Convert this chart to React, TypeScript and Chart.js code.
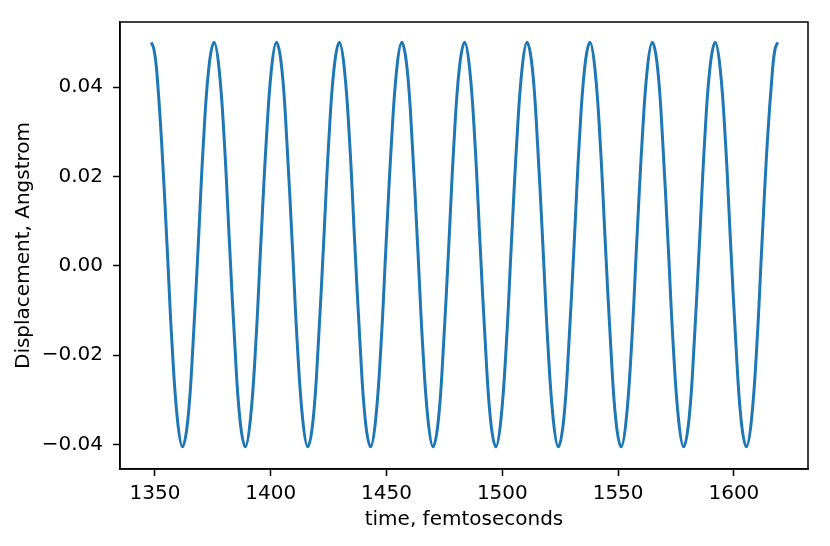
import React, { useEffect, useRef } from "react";
import { Chart, registerables } from "chart.js";

Chart.register(...registerables);

const timeFs: number[] = [
  1348.4, 1349.5, 1350.7, 1352.9, 1355.2, 1357.4, 1359.7, 1361.9, 1364.2, 1366.4, 1368.7, 1370.9, 1373.2,
  1375.5, 1377.7, 1380.0, 1382.2, 1384.5, 1386.7, 1389.0, 1391.2, 1393.5, 1395.7, 1398.0, 1400.3,
  1402.5, 1404.8, 1407.0, 1409.3, 1411.5, 1413.8, 1416.0, 1418.3, 1420.5, 1422.8, 1425.0, 1427.3,
  1429.6, 1431.8, 1434.1, 1436.3, 1438.6, 1440.8, 1443.1, 1445.3, 1447.6, 1449.8, 1452.1, 1454.4,
  1456.6, 1458.9, 1461.1, 1463.4, 1465.6, 1467.9, 1470.1, 1472.4, 1474.6, 1476.9, 1479.1, 1481.4,
  1483.7, 1485.9, 1488.2, 1490.4, 1492.7, 1494.9, 1497.2, 1499.4, 1501.7, 1503.9, 1506.2, 1508.5,
  1510.7, 1513.0, 1515.2, 1517.5, 1519.7, 1522.0, 1524.2, 1526.5, 1528.7, 1531.0, 1533.2, 1535.5,
  1537.8, 1540.0, 1542.3, 1544.5, 1546.8, 1549.0, 1551.3, 1553.5, 1555.8, 1558.0, 1560.3, 1562.6,
  1564.8, 1567.1, 1569.3, 1571.6, 1573.8, 1576.1, 1578.3, 1580.6, 1582.8, 1585.1, 1587.3, 1589.6,
  1591.9, 1594.1, 1596.4, 1598.6, 1600.9, 1603.1, 1605.4, 1607.6, 1609.9, 1612.1, 1614.4, 1616.7,
  1617.8, 1618.9,
];

const displacement: number[] = [
  0.05, 0.0486, 0.044, 0.0274, 0.0048, -0.0178, -0.0344, -0.0405, -0.0344, -0.0178, 0.0048, 0.0274, 0.044,
  0.05, 0.044, 0.0274, 0.0048, -0.0178, -0.0344, -0.0405, -0.0344, -0.0178, 0.0048, 0.0274, 0.044,
  0.05, 0.044, 0.0274, 0.0048, -0.0178, -0.0344, -0.0405, -0.0344, -0.0178, 0.0048, 0.0274, 0.044,
  0.05, 0.044, 0.0274, 0.0048, -0.0178, -0.0344, -0.0405, -0.0344, -0.0178, 0.0048, 0.0274, 0.044,
  0.05, 0.044, 0.0274, 0.0048, -0.0178, -0.0344, -0.0405, -0.0344, -0.0178, 0.0048, 0.0274, 0.044,
  0.05, 0.044, 0.0274, 0.0048, -0.0178, -0.0344, -0.0405, -0.0344, -0.0178, 0.0048, 0.0274, 0.044,
  0.05, 0.044, 0.0274, 0.0048, -0.0178, -0.0344, -0.0405, -0.0344, -0.0178, 0.0048, 0.0274, 0.044,
  0.05, 0.044, 0.0274, 0.0048, -0.0178, -0.0344, -0.0405, -0.0344, -0.0178, 0.0048, 0.0274, 0.044,
  0.05, 0.044, 0.0274, 0.0048, -0.0178, -0.0344, -0.0405, -0.0344, -0.0178, 0.0048, 0.0274, 0.044,
  0.05, 0.044, 0.0274, 0.0048, -0.0178, -0.0344, -0.0405, -0.0344, -0.0178, 0.0048, 0.0274, 0.044,
  0.0486, 0.05,
];

const xTicks: number[] = [1350, 1400, 1450, 1500, 1550, 1600];
const yTicks: number[] = [-0.04, -0.02, 0.0, 0.02, 0.04];

const xTitle = "time, femtoseconds";
const yTitle = "Displacement, Angstrom";

const FONT = "'DejaVu Sans', sans-serif";

const frame = {
  id: "frame",
  afterDraw(chart: any) {
    const { ctx, chartArea } = chart;
    ctx.save();
    ctx.strokeStyle = "#000";
    ctx.lineWidth = 1.5;
    ctx.strokeRect(chartArea.left, chartArea.top, chartArea.right - chartArea.left, chartArea.bottom - chartArea.top);
    ctx.restore();
  },
};

function fmtY(v: number): string {
  const s = Math.abs(v).toFixed(2);
  return v < -1e-9 ? "\u2212" + s : s;
}

export default function App() {
  const ref = useRef<HTMLCanvasElement | null>(null);

  useEffect(() => {
    document.body.style.margin = "0";
    const canvas = ref.current;
    if (!canvas) return;
    const points = timeFs.map((t, i) => ({ x: t, y: displacement[i] }));
    const chart = new Chart(canvas, {
      type: "line",
      data: {
        datasets: [
          {
            data: points,
            borderColor: "#1f77b4",
            borderWidth: 3,
            pointRadius: 0,
            fill: false,
            tension: 0.4,
            borderJoinStyle: "round",
          },
        ],
      },
      options: {
        animation: false,
        responsive: false,
        devicePixelRatio: 1,
        layout: { padding: { left: 0, top: 22, right: 22, bottom: 0 } },
        plugins: { legend: { display: false }, tooltip: { enabled: false } },
        scales: {
          x: {
            type: "linear",
            min: 1334.9,
            max: 1632,
            afterBuildTicks: (axis: any) => {
              axis.ticks = xTicks.map((v) => ({ value: v }));
            },
            afterFit: (axis: any) => {
              axis.height = 77;
            },
            grid: { drawOnChartArea: false, tickLength: 7, color: "#000", tickWidth: 1.5 },
            border: { display: true, color: "#000", width: 1.5 },
            ticks: {
              color: "#000",
              font: { family: FONT, size: 20 },
              padding: 6,
              maxRotation: 0,
              autoSkip: false,
              callback: (v: any) => String(v),
            },
            title: {
              display: true,
              text: xTitle,
              color: "#000",
              font: { family: FONT, size: 20 },
              padding: { top: 0, bottom: 14 },
            },
          },
          y: {
            type: "linear",
            min: -0.04545,
            max: 0.05455,
            afterBuildTicks: (axis: any) => {
              axis.ticks = yTicks.map((v) => ({ value: v }));
            },
            afterFit: (axis: any) => {
              axis.width = 120;
            },
            grid: { drawOnChartArea: false, tickLength: 7, color: "#000", tickWidth: 1.5 },
            border: { display: true, color: "#000", width: 1.5 },
            ticks: {
              color: "#000",
              font: { family: FONT, size: 20 },
              padding: 10,
              autoSkip: false,
              callback: (v: any) => fmtY(Number(v)),
            },
            title: {
              display: true,
              text: yTitle,
              color: "#000",
              font: { family: FONT, size: 20 },
              padding: { top: 12, bottom: 0 },
            },
          },
        },
      },
      plugins: [frame],
    });
    return () => chart.destroy();
  }, []);

  return (
    <div style={{ width: 830, height: 546, background: "#fff" }}>
      <canvas ref={ref} width={830} height={546} style={{ display: "block", width: 830, height: 546 }} />
    </div>
  );
}
